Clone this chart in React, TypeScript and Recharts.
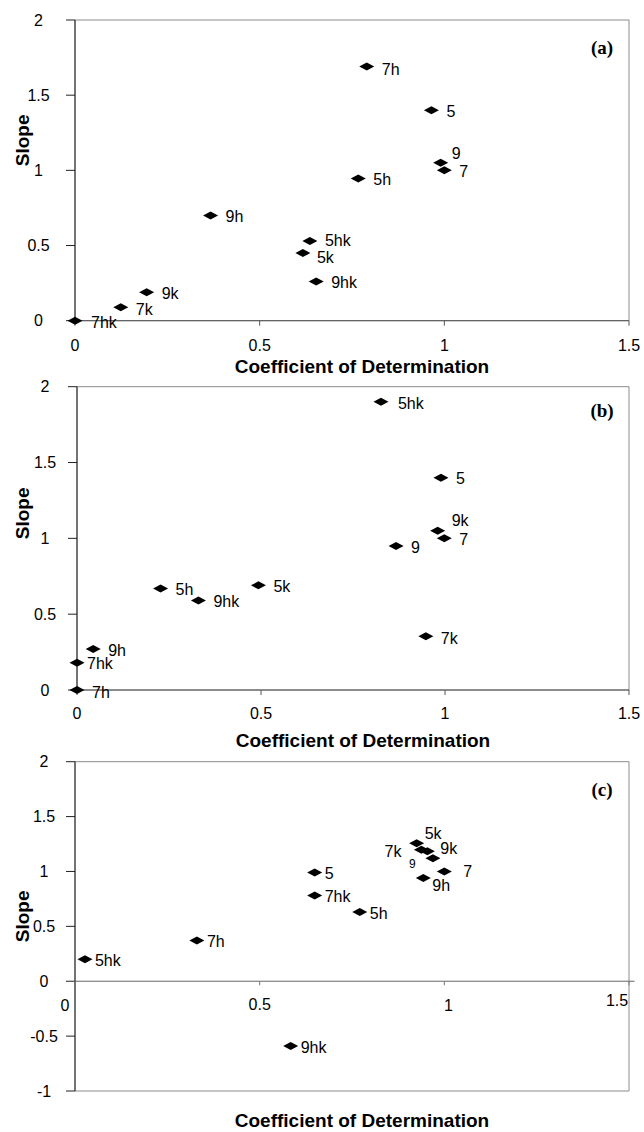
import React from 'react';
import { ScatterChart, Scatter, XAxis, YAxis, ReferenceArea, ReferenceLine } from 'recharts';

// ---------- data ----------
const NAMES_A = ['7h', '5', '9', '7', '5h', '9h', '5hk', '5k', '9hk', '9k', '7k', '7hk'];
const R2_A = [0.79, 0.965, 0.99, 1.0, 0.767, 0.367, 0.636, 0.617, 0.653, 0.194, 0.124, 0];
const SLOPE_A = [1.69, 1.4, 1.05, 1.0, 0.945, 0.7, 0.53, 0.45, 0.26, 0.19, 0.09, 0];

const NAMES_B = ['5hk', '5', '9k', '7', '9', '5h', '5k', '9hk', '7k', '9h', '7hk', '7h'];
const R2_B = [0.826, 0.989, 0.98, 0.998, 0.867, 0.227, 0.493, 0.33, 0.948, 0.044, 0, 0];
const SLOPE_B = [1.9, 1.4, 1.05, 1.0, 0.95, 0.67, 0.69, 0.59, 0.355, 0.27, 0.18, 0];

const NAMES_C = ['5k', '7k', '9k', '9', '7', '9h', '5', '7hk', '5h', '7h', '5hk', '9hk'];
const R2_C = [0.925, 0.938, 0.954, 0.969, 1.0, 0.943, 0.649, 0.649, 0.771, 0.33, 0.027, 0.584];
const SLOPE_C = [1.257, 1.197, 1.185, 1.12, 1.0, 0.94, 0.99, 0.78, 0.63, 0.37, 0.2, -0.59];

const X_TICKS = [0, 0.5, 1, 1.5];
const Y_TICKS_AB = [0, 0.5, 1, 1.5, 2];
const Y_TICKS_C = [-1, -0.5, 0, 0.5, 1, 1.5, 2];
const PANEL_TAGS = ['(a)', '(b)', '(c)'];
const X_TITLE = 'Coefficient of Determination';
const Y_TITLE = 'Slope';

type Pt = { name: string; x: number; y: number };
const build = (names: string[], xs: number[], ys: number[]): Pt[] =>
  names.map((n, i) => ({ name: n, x: xs[i], y: ys[i] }));

const DATA_A = build(NAMES_A, R2_A, SLOPE_A);
const DATA_B = build(NAMES_B, R2_B, SLOPE_B);
const DATA_C = build(NAMES_C, R2_C, SLOPE_C);

// ---------- styles ----------
const FONT = '"Liberation Sans", Arial, Helvetica, sans-serif';
const SERIF = '"Liberation Serif", "Times New Roman", serif';

type LabelStyle = { dx: number; dy: number; anchor?: 'start' | 'end' | 'middle'; fontSize?: number };

const LABELS_A: Record<string, Partial<LabelStyle>> = {
  '9': { dx: 11, dy: -10 },
  '7hk': { dx: 16, dy: 2 },
  '7k': { dy: 2 },
  '5hk': { dy: -1 },
  '5k': { dx: 14, dy: 4 },
  '7h': { dy: 3 },
};
const LABELS_B: Record<string, Partial<LabelStyle>> = {
  '9k': { dx: 14, dy: -11 },
  '7hk': { dx: 10, dy: 1 },
  '7h': { dy: 2 },
  '7k': { dy: 2 },
  '5hk': { dx: 17 },
};
const LABELS_C: Record<string, Partial<LabelStyle>> = {
  '5k': { dx: 8, dy: -10 },
  '7k': { dx: -20, dy: 1, anchor: 'end' },
  '9k': { dx: 13, dy: -3 },
  '9': { dx: -24, dy: 5, fontSize: 12 },
  '7': { dx: 19, dy: 0 },
  '9h': { dx: 9, dy: 7 },
};

function makeMarker(defaults: LabelStyle, overrides: Record<string, Partial<LabelStyle>>) {
  return (props: any) => {
    const { cx, cy, payload } = props;
    if (cx == null || cy == null) return <g />;
    const s: LabelStyle = { ...defaults, ...(overrides[payload.name] || {}) };
    const fs = s.fontSize ?? 16;
    return (
      <g>
        <polygon
          points={`${cx - 7.5},${cy} ${cx},${cy - 4} ${cx + 7.5},${cy} ${cx},${cy + 4}`}
          fill="#000"
        />
        <text
          x={cx + s.dx}
          y={cy + s.dy + fs * 0.36}
          textAnchor={s.anchor ?? 'start'}
          fontSize={fs}
          fontFamily={FONT}
          fill="#000"
        >
          {payload.name}
        </text>
      </g>
    );
  };
}

const MARKER_A = makeMarker({ dx: 15, dy: 1 }, LABELS_A);
const MARKER_B = makeMarker({ dx: 15, dy: 1 }, LABELS_B);
const MARKER_C = makeMarker({ dx: 10, dy: 1 }, LABELS_C);

type PanelProps = {
  top: number;
  height: number;
  marginTop: number;
  axisWidth: number;
  xAxisHeight: number;
  plotHeight: number;
  data: Pt[];
  yDomain: [number, number];
  yTicks: number[];
  tag: string;
  yTickCenter: number;
  slopeDy: number;
  titleBelow: number;
  tickBelow: number;
  tagDy: number;
  zeroAxis?: boolean;
  marker: any;
};

const C_TICK_TWEAK: Record<string, [number, number]> = {
  '0': [-10, 1],
  '0.5': [0, 0],
  '1': [4, 1],
  '1.5': [-12, -4],
};

function Panel(p: PanelProps) {
  const XTitle = (lp: any) => {
    const vb = lp.viewBox || {};
    return (
      <text
        x={vb.x + vb.width / 2 + 10}
        y={vb.y + p.titleBelow + 19 * 0.36}
        textAnchor="middle"
        fontSize={19}
        fontWeight="bold"
        fontFamily={FONT}
        fill="#000"
      >
        {X_TITLE}
      </text>
    );
  };
  const YTitle = (lp: any) => {
    const vb = lp.viewBox || {};
    const cy = vb.y + vb.height / 2 + p.slopeDy;
    return (
      <text
        transform={`translate(22, ${cy}) rotate(-90)`}
        x={0}
        y={19 * 0.36}
        textAnchor="middle"
        fontSize={19}
        fontWeight="bold"
        fontFamily={FONT}
        fill="#000"
      >
        {Y_TITLE}
      </text>
    );
  };
  const Tag = (lp: any) => {
    const vb = lp.viewBox || {};
    return (
      <text
        x={vb.x + vb.width - 27}
        y={vb.y + p.tagDy + 19 * 0.33}
        textAnchor="middle"
        fontSize={19}
        fontWeight="bold"
        fontFamily={SERIF}
        fill="#000"
      >
        {p.tag}
      </text>
    );
  };
  const zeroShift = (p.plotHeight * (0 - p.yDomain[0])) / (p.yDomain[1] - p.yDomain[0]);
  const CTick = (tp: any) => {
    const { x, y, payload } = tp;
    const zeroY = y - zeroShift;
    const tw = C_TICK_TWEAK[String(payload.value)] || [0, 0];
    return (
      <g>
        <line x1={x} x2={x} y1={zeroY} y2={zeroY + 4} stroke="#777" />
        <text
          x={x + tw[0]}
          y={zeroY + 23 + tw[1] + 16 * 0.36}
          textAnchor="middle"
          fontSize={16}
          fontFamily={FONT}
          fill="#000"
        >
          {payload.value}
        </text>
      </g>
    );
  };

  return (
    <div style={{ position: 'absolute', left: 0, top: p.top }}>
      <ScatterChart
        width={644}
        height={p.height}
        margin={{ top: p.marginTop, right: 15, bottom: 0, left: 0 }}
      >
        <ReferenceArea
          x1={0}
          x2={1.5}
          y1={p.yDomain[0]}
          y2={p.yDomain[1]}
          fill="none"
          fillOpacity={0}
          stroke="#8c8c8c"
          strokeWidth={1}
          label={{ content: Tag }}
        />
        {p.zeroAxis ? (
          <ReferenceLine
            segment={[
              { x: 0, y: 0 },
              { x: 1.515, y: 0 },
            ]}
            ifOverflow="visible"
            stroke="#666"
            strokeWidth={1}
          />
        ) : null}
        {p.zeroAxis ? (
          <XAxis
            type="number"
            dataKey="x"
            domain={[0, 1.5]}
            ticks={X_TICKS}
            interval={0}
            height={p.xAxisHeight}
            axisLine={false}
            tickLine={false}
            tickSize={0}
            tickMargin={0}
            tick={<CTick />}
            label={{ content: XTitle }}
          />
        ) : (
          <XAxis
            type="number"
            dataKey="x"
            domain={[0, 1.5]}
            ticks={X_TICKS}
            interval={0}
            height={p.xAxisHeight}
            axisLine={{ stroke: '#555' }}
            tickLine={{ stroke: '#555' }}
            tickSize={5}
            tickMargin={p.tickBelow - 5 - 5.7}
            tick={{ fontSize: 16, fontFamily: FONT, fill: '#000' }}
            label={{ content: XTitle }}
          />
        )}
        <YAxis
          type="number"
          dataKey="y"
          domain={p.yDomain}
          ticks={p.yTicks}
          interval={0}
          width={p.axisWidth}
          axisLine={{ stroke: '#222' }}
          tickLine={{ stroke: '#222' }}
          tickSize={9}
          tickMargin={p.axisWidth - 9 - p.yTickCenter}
          tick={{ fontSize: 16, fontFamily: FONT, fill: '#000', textAnchor: 'middle' }}
          label={{ content: YTitle }}
        />
        <Scatter data={p.data} shape={p.marker} isAnimationActive={false} />
      </ScatterChart>
    </div>
  );
}

export default function App() {
  return (
    <div
      style={{
        position: 'absolute',
        left: 0,
        top: 0,
        width: 644,
        height: 1132,
        background: '#fff',
        overflow: 'hidden',
      }}
    >
      <Panel
        top={0}
        height={378}
        marginTop={20}
        axisWidth={75}
        plotHeight={300.7}
        xAxisHeight={57.3}
        data={DATA_A}
        yDomain={[0, 2]}
        yTicks={Y_TICKS_AB}
        tag={PANEL_TAGS[0]}
        yTickCenter={38.5}
        slopeDy={-30}
        titleBelow={45.5}
        tickBelow={24.3}
        tagDy={28}
        marker={MARKER_A}
      />
      <Panel
        top={367}
        height={393}
        marginTop={19.7}
        axisWidth={77}
        plotHeight={303.3}
        xAxisHeight={70}
        data={DATA_B}
        yDomain={[0, 2]}
        yTicks={Y_TICKS_AB}
        tag={PANEL_TAGS[1]}
        yTickCenter={45}
        slopeDy={-25}
        titleBelow={50}
        tickBelow={23}
        tagDy={24}
        marker={MARKER_B}
      />
      <Panel
        top={740}
        height={392}
        marginTop={21.7}
        axisWidth={75}
        plotHeight={329.3}
        xAxisHeight={41}
        data={DATA_C}
        yDomain={[-1, 2]}
        yTicks={Y_TICKS_C}
        tag={PANEL_TAGS[2]}
        yTickCenter={44}
        slopeDy={-10}
        titleBelow={29}
        tickBelow={0}
        tagDy={28}
        zeroAxis
        marker={MARKER_C}
      />
    </div>
  );
}
